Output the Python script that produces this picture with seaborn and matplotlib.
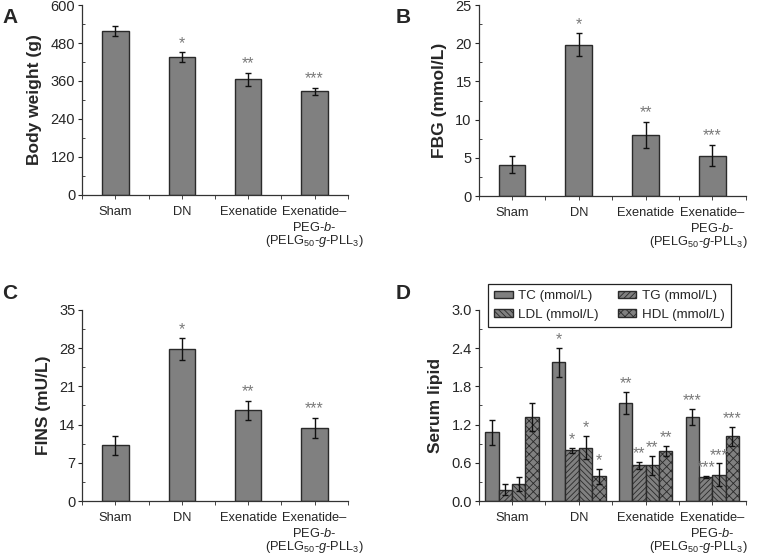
import numpy as np
import pandas as pd
import seaborn as sns
import matplotlib.pyplot as plt
from matplotlib.ticker import MultipleLocator, FormatStrFormatter

# groups and tick labels (the last line of the long label is drawn on its own)
groups = ['Sham', 'DN', 'Exenatide', 'Exenatide-PEG-b-(PELG50-g-PLL3)']
tick_labels = ['Sham', 'DN', 'Exenatide', 'Exenatide\u2013\nPEG-$b$-']
last_line = '(PELG$_{50}$-$g$-PLL$_3$)'

# A: body weight (g)
bw_mean = [518, 435, 365, 327]
bw_err = [15, 15, 20, 12]
# B: FBG (mmol/L)
fbg_mean = [4.1, 19.8, 8.0, 5.3]
fbg_err = [1.1, 1.5, 1.7, 1.4]
# C: FINS (mU/L)
fins_mean = [10.2, 27.8, 16.6, 13.4]
fins_err = [1.7, 2.0, 1.8, 1.9]
stars = ['', '*', '**', '***']

# D: serum lipid
lipids = ['TC (mmol/L)', 'TG (mmol/L)', 'LDL (mmol/L)', 'HDL (mmol/L)']
tc_mean = [1.08, 2.18, 1.54, 1.32]
tc_err = [0.20, 0.23, 0.17, 0.13]
tg_mean = [0.18, 0.80, 0.56, 0.38]
tg_err = [0.08, 0.04, 0.06, 0.02]
ldl_mean = [0.27, 0.84, 0.56, 0.41]
ldl_err = [0.11, 0.18, 0.15, 0.18]
hdl_mean = [1.32, 0.39, 0.78, 1.02]
hdl_err = [0.22, 0.12, 0.08, 0.15]

sns.set_style('ticks')
plt.rcParams['font.family'] = ['Liberation Sans', 'DejaVu Sans']
plt.rcParams['mathtext.fontset'] = 'custom'
plt.rcParams['mathtext.rm'] = 'Liberation Sans'
plt.rcParams['mathtext.it'] = 'Liberation Sans:italic'
plt.rcParams['hatch.linewidth'] = 0.6

BAR = '#808080'
EDGE = '#2a2a2a'
STAR = '#7a7a7a'
TICK_FS = 9.3

fig = plt.figure(figsize=(7.61, 5.57), dpi=100)
axA = fig.add_axes([0.108, 0.650, 0.349, 0.341])
axB = fig.add_axes([0.629, 0.648, 0.351, 0.343])
axC = fig.add_axes([0.108, 0.1005, 0.349, 0.343])
axD = fig.add_axes([0.629, 0.1005, 0.351, 0.343])


def style_axis(ax, ymax, step, ylabel, shift, fmt=None):
    ax.set_xlim(-0.5, 3.5)
    ax.set_ylim(0, ymax)
    ax.yaxis.set_major_locator(MultipleLocator(step))
    ax.yaxis.set_minor_locator(MultipleLocator(step / 2))
    if fmt:
        ax.yaxis.set_major_formatter(FormatStrFormatter(fmt))
    ax.set_xticks(range(4))
    ax.set_xticks(np.arange(-0.5, 4.0, 1.0), minor=True)
    ax.set_xticklabels(tick_labels, fontsize=TICK_FS, linespacing=1.25)
    ax.tick_params(axis='y', labelsize=10.5, length=3, width=0.8, pad=2)
    ax.tick_params(axis='y', which='minor', direction='in', length=2, width=0.6)
    ax.tick_params(axis='x', which='both', length=3, width=0.6, pad=5)
    ax.set_xlabel('')
    ax.set_ylabel(ylabel, fontsize=12.5, fontweight='bold', labelpad=6)
    sns.despine(ax=ax)
    for s in ['left', 'bottom']:
        ax.spines[s].set_linewidth(0.9)
        ax.spines[s].set_color('#333333')
    ax.annotate(last_line, xy=(3, 0), xycoords=('data', 'axes fraction'),
                xytext=(shift, -46), textcoords='offset pixels',
                ha='center', va='center', fontsize=TICK_FS)


def simple_panel(ax, means, errs, ymax, step, ylabel, shift, fmt=None):
    df = pd.DataFrame({'group': groups, 'value': means})
    sns.barplot(data=df, x='group', y='value', ax=ax, color=BAR, width=0.4,
                saturation=1, edgecolor=EDGE, linewidth=1.0, errorbar=None)
    xs = [p.get_x() + p.get_width() / 2 for p in ax.patches]
    ax.errorbar(xs, means, yerr=errs, fmt='none', ecolor='#111111',
                elinewidth=1.0, capsize=2.5, capthick=1.0)
    for x, m, e, s in zip(xs, means, errs, stars):
        if s:
            ax.text(x, m + e + ymax * 0.008, s, ha='center', va='bottom',
                    color=STAR, fontsize=11.5)
    style_axis(ax, ymax, step, ylabel, shift, fmt)


simple_panel(axA, bw_mean, bw_err, 600, 120, 'Body weight (g)', 0)
simple_panel(axB, fbg_mean, fbg_err, 25, 5, 'FBG (mmol/L)', -14)
simple_panel(axC, fins_mean, fins_err, 35, 7, 'FINS (mU/L)', 0)

# panel D
lipid_means = [tc_mean, tg_mean, ldl_mean, hdl_mean]
lipid_errs = [tc_err, tg_err, ldl_err, hdl_err]
rows = []
for lip, vals in zip(lipids, lipid_means):
    for g, v in zip(groups, vals):
        rows.append({'group': g, 'lipid': lip, 'value': v})
dfD = pd.DataFrame(rows)
sns.barplot(data=dfD, x='group', y='value', hue='lipid', ax=axD,
            palette=[BAR] * 4, saturation=1, width=0.8, edgecolor=EDGE,
            linewidth=1.0, errorbar=None)
hatches = ['', '//////', '\\\\\\\\\\\\', 'xxxx']
for cont, h, means, errs in zip(axD.containers, hatches, lipid_means, lipid_errs):
    xs = []
    for p in cont:
        p.set_hatch(h)
        xs.append(p.get_x() + p.get_width() / 2)
    axD.errorbar(xs, means, yerr=errs, fmt='none', ecolor='#111111',
                 elinewidth=1.0, capsize=2.0, capthick=1.0)
    for x, m, e, s in zip(xs, means, errs, stars):
        if s:
            axD.text(x, m + e + 0.01, s, ha='center', va='bottom',
                     color=STAR, fontsize=11.5)
style_axis(axD, 3.0, 0.6, 'Serum lipid', -14, '%.1f')
handles, labels = axD.get_legend_handles_labels()
order = [0, 2, 1, 3]
leg = axD.legend([handles[i] for i in order], [labels[i] for i in order],
                 ncol=2, loc='upper center', bbox_to_anchor=(0.49, 1.17),
                 frameon=True, fancybox=False, edgecolor='#222222',
                 fontsize=9.6, handlelength=1.4, handleheight=0.5,
                 columnspacing=1.4, handletextpad=0.4, borderpad=0.45,
                 labelspacing=0.5, framealpha=1)
leg.get_frame().set_linewidth(0.9)
for h, hatch in zip(leg.legend_handles, [hatches[i] for i in order]):
    h.set_hatch(hatch)

for lab, (x, y) in zip('ABCD', [(0.003, 0.985), (0.52, 0.985),
                                 (0.003, 0.49), (0.52, 0.49)]):
    fig.text(x, y, lab, fontsize=15, fontweight='bold', va='top', ha='left')

fig.savefig('out.png', dpi=100)
